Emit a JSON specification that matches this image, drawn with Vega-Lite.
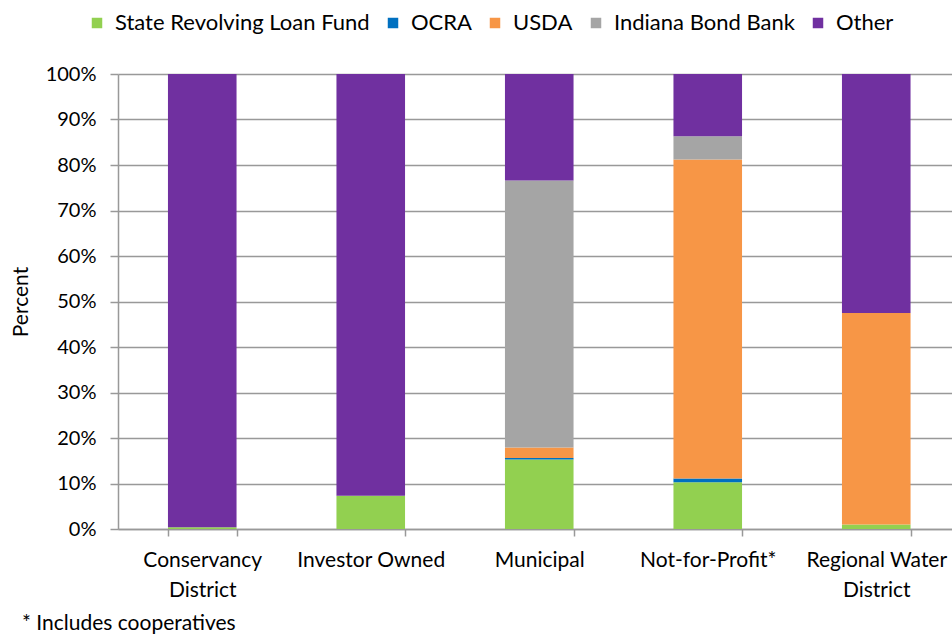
{
  "$schema": "https://vega.github.io/schema/vega-lite/v6.json",
  "autosize": {"type": "none"},
  "width": 834,
  "height": 455,
  "padding": {"left": 118, "top": 74, "right": 0, "bottom": 106},
  "background": "white",
  "config": {
    "font": "Lato",
    "view": {"stroke": null}
  },
  "title": {
    "text": "* Includes cooperatives",
    "orient": "bottom",
    "anchor": "start",
    "frame": "group",
    "dx": -96,
    "offset": 13,
    "fontSize": 21,
    "fontWeight": "normal",
    "color": "#000000",
    "font": "Lato"
  },
  "data": {
    "values": [
      {"category": "Conservancy District", "source": "State Revolving Loan Fund", "k": 1, "value": 0.4},
      {"category": "Conservancy District", "source": "OCRA", "k": 2, "value": 0},
      {"category": "Conservancy District", "source": "USDA", "k": 3, "value": 0},
      {"category": "Conservancy District", "source": "Indiana Bond Bank", "k": 4, "value": 0},
      {"category": "Conservancy District", "source": "Other", "k": 5, "value": 99.6},
      {"category": "Investor Owned", "source": "State Revolving Loan Fund", "k": 1, "value": 7.3},
      {"category": "Investor Owned", "source": "OCRA", "k": 2, "value": 0},
      {"category": "Investor Owned", "source": "USDA", "k": 3, "value": 0},
      {"category": "Investor Owned", "source": "Indiana Bond Bank", "k": 4, "value": 0},
      {"category": "Investor Owned", "source": "Other", "k": 5, "value": 92.7},
      {"category": "Municipal", "source": "State Revolving Loan Fund", "k": 1, "value": 15.3},
      {"category": "Municipal", "source": "OCRA", "k": 2, "value": 0.3},
      {"category": "Municipal", "source": "USDA", "k": 3, "value": 2.3},
      {"category": "Municipal", "source": "Indiana Bond Bank", "k": 4, "value": 58.7},
      {"category": "Municipal", "source": "Other", "k": 5, "value": 23.4},
      {"category": "Not-for-Profit*", "source": "State Revolving Loan Fund", "k": 1, "value": 10.3},
      {"category": "Not-for-Profit*", "source": "OCRA", "k": 2, "value": 0.8},
      {"category": "Not-for-Profit*", "source": "USDA", "k": 3, "value": 70.1},
      {"category": "Not-for-Profit*", "source": "Indiana Bond Bank", "k": 4, "value": 5.1},
      {"category": "Not-for-Profit*", "source": "Other", "k": 5, "value": 13.7},
      {"category": "Regional Water District", "source": "State Revolving Loan Fund", "k": 1, "value": 1.0},
      {"category": "Regional Water District", "source": "OCRA", "k": 2, "value": 0},
      {"category": "Regional Water District", "source": "USDA", "k": 3, "value": 46.5},
      {"category": "Regional Water District", "source": "Indiana Bond Bank", "k": 4, "value": 0},
      {"category": "Regional Water District", "source": "Other", "k": 5, "value": 52.5}
    ]
  },
  "mark": {"type": "bar"},
  "encoding": {
    "x": {
      "field": "category",
      "type": "nominal",
      "sort": null,
      "scale": {"range": [0, 842.5], "paddingInner": 0.593, "paddingOuter": 0.2965},
      "axis": {
        "title": null,
        "labelAngle": 0,
        "labelFontSize": 21,
        "labelColor": "#000000",
        "labelFont": "Lato",
        "labelPadding": 13,
        "labelLineHeight": 30,
        "labelLimit": 300,
        "labelOverlap": false,
        "labelExpr": "datum.value == 'Conservancy District' ? ['Conservancy', 'District'] : datum.value == 'Regional Water District' ? ['Regional Water', 'District'] : datum.label",
        "tickBand": "extent",
        "tickSize": 7,
        "tickColor": "#999999",
        "tickWidth": 1.5,
        "domainColor": "#999999",
        "domainWidth": 1.5,
        "grid": false
      }
    },
    "y": {
      "field": "value",
      "type": "quantitative",
      "stack": "normalize",
      "scale": {"domain": [0, 1]},
      "axis": {
        "title": "Percent",
        "titleFontSize": 21,
        "titleFontWeight": "normal",
        "titleColor": "#000000",
        "titleFont": "Lato",
        "titlePadding": 14,
        "format": ".0%",
        "values": [0, 0.1, 0.2, 0.3, 0.4, 0.5, 0.6, 0.7, 0.8, 0.9, 1],
        "labelOverlap": false,
        "labelFontSize": 20,
        "labelColor": "#000000",
        "labelFont": "Lato",
        "labelPadding": 14,
        "tickSize": 8,
        "tickColor": "#999999",
        "tickWidth": 1.5,
        "domainColor": "#999999",
        "domainWidth": 1.5,
        "grid": true,
        "gridColor": "#999999",
        "gridWidth": 1.5
      }
    },
    "color": {
      "field": "source",
      "type": "nominal",
      "scale": {
        "domain": ["State Revolving Loan Fund", "OCRA", "USDA", "Indiana Bond Bank", "Other"],
        "range": ["#92d050", "#0070c0", "#f79646", "#a5a5a5", "#7030a0"]
      },
      "legend": {
        "title": null,
        "orient": "none",
        "direction": "horizontal",
        "legendX": -32,
        "legendY": -62,
        "symbolType": "square",
        "symbolSize": 110,
        "symbolStrokeWidth": 0,
        "labelFontSize": 22,
        "labelFont": "Lato",
        "labelColor": "#000000",
        "labelOffset": 7,
        "labelLimit": 400,
        "columnPadding": 12
      }
    },
    "order": {"field": "k", "type": "quantitative"}
  }
}
